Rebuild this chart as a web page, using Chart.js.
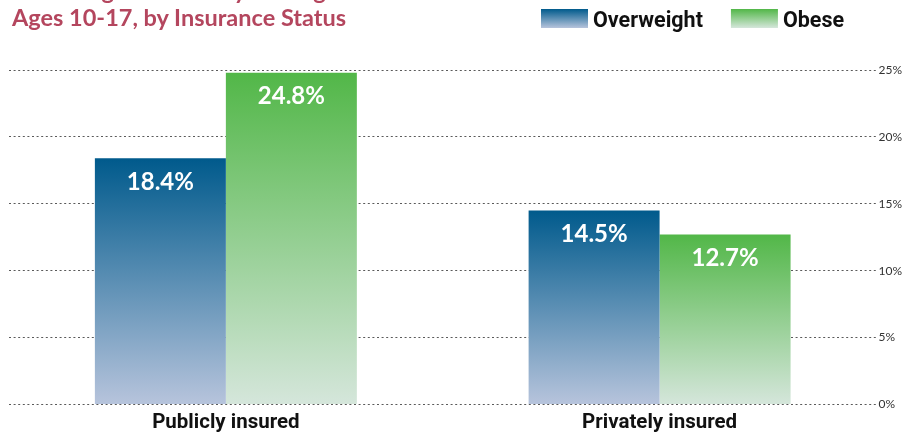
<!DOCTYPE html>
<html>
<head>
<meta charset="utf-8">
<script src="https://cdn.jsdelivr.net/npm/chart.js@4"></script>
<style>
  html, body { margin: 0; padding: 0; background: #ffffff; }
  #wrap { position: relative; width: 917px; height: 436px; overflow: hidden; }
  #title { position: absolute; left: 12px; top: -23px; margin: 0; font-family: Lato, "Open Sans", sans-serif; font-weight: 700; font-size: 23.5px; line-height: 27px; color: #b4465e; white-space: nowrap; z-index: 2; }
  canvas { position: absolute; left: 0; top: 0; }
</style>
</head>
<body>
<div id="wrap">
  <div id="title">Overweight &amp; Obesity Among<br>Ages 10-17, by Insurance Status</div>
  <canvas id="c" width="917" height="436"></canvas>
</div>
<script>
const categories = ["Publicly insured", "Privately insured"];
const seriesNames = ["Overweight", "Obese"];
const overweight = [18.4, 14.5];
const obese = [24.8, 12.7];
const yTicks = [0, 5, 10, 15, 20, 25];

const blueTop = "#005a8c", blueBottom = "#b7c4dc";
const greenTop = "#52b748", greenBottom = "#d5e6db";

function gradFill(topCol, botCol) {
  return function (ctx) {
    const chart = ctx.chart;
    if (!chart.chartArea || ctx.raw === undefined) return topCol;
    const ys = chart.scales.y;
    const t = ys.getPixelForValue(ctx.raw);
    const b = ys.getPixelForValue(0);
    if (!isFinite(t) || !isFinite(b) || t === b) return topCol;
    const g = chart.ctx.createLinearGradient(0, t, 0, b);
    g.addColorStop(0, topCol);
    g.addColorStop(1, botCol);
    return g;
  };
}

const labelFont = "Roboto, 'Open Sans', sans-serif";

const valueLabels = {
  id: "valueLabels",
  afterDatasetsDraw(chart) {
    const c = chart.ctx;
    c.save();
    c.fillStyle = "#ffffff";
    c.font = "bold 24px Lato, 'Open Sans', sans-serif";
    c.textAlign = "center";
    c.textBaseline = "middle";
    chart.data.datasets.forEach((ds, di) => {
      chart.getDatasetMeta(di).data.forEach((bar, i) => {
        c.fillText(ds.data[i].toFixed(1) + "%", bar.x, bar.y + 24);
      });
    });
    c.restore();
  }
};

const customLegend = {
  id: "customLegend",
  afterDraw(chart) {
    const c = chart.ctx;
    c.save();
    c.font = "bold 21.5px " + labelFont;
    c.textBaseline = "alphabetic";
    const boxW = 47, boxH = 19, boxTop = 9, gap = 5, itemGap = 28;
    let x = 541;
    const cols = [[blueTop, blueBottom], [greenTop, greenBottom]];
    chart.data.datasets.forEach((ds, i) => {
      const g = c.createLinearGradient(0, boxTop, 0, boxTop + boxH);
      g.addColorStop(0, cols[i][0]);
      g.addColorStop(1, cols[i][1]);
      c.fillStyle = g;
      c.fillRect(x, boxTop, boxW, boxH);
      x += boxW + gap;
      c.fillStyle = "#111111";
      c.fillText(ds.label, x, 27);
      x += c.measureText(ds.label).width + itemGap;
    });
    c.restore();
  }
};

new Chart(document.getElementById("c"), {
  type: "bar",
  data: {
    labels: categories,
    datasets: [
      { label: seriesNames[0], data: overweight, backgroundColor: gradFill(blueTop, blueBottom), borderWidth: 0 },
      { label: seriesNames[1], data: obese, backgroundColor: gradFill(greenTop, greenBottom), borderWidth: 0 }
    ]
  },
  options: {
    responsive: false,
    animation: false,
    devicePixelRatio: 1,
    categoryPercentage: 0.604,
    barPercentage: 1.0,
    layout: { padding: { left: 9, right: 13, top: 70, bottom: -5 } },
    plugins: {
      legend: { display: false },
      title: { display: false },
      tooltip: { enabled: false }
    },
    scales: {
      x: {
        grid: { display: false, drawTicks: false },
        border: { display: false },
        ticks: {
          color: "#111111",
          padding: 6,
          font: { family: labelFont, size: 20.5, weight: "bold" }
        }
      },
      y: {
        position: "right",
        min: 0,
        max: 25,
        afterBuildTicks(scale) { scale.ticks = yTicks.map(v => ({ value: v })); },
        ticks: {
          color: "#333333",
          padding: 2,
          font: { family: "Lato, 'Open Sans', sans-serif", size: 12 },
          callback: v => v + "%"
        },
        grid: { color: "#5a5a5a", lineWidth: 1, drawTicks: false },
        border: { display: false, dash: [2, 2.6] }
      }
    }
  },
  plugins: [valueLabels, customLegend]
});
</script>
</body>
</html>
